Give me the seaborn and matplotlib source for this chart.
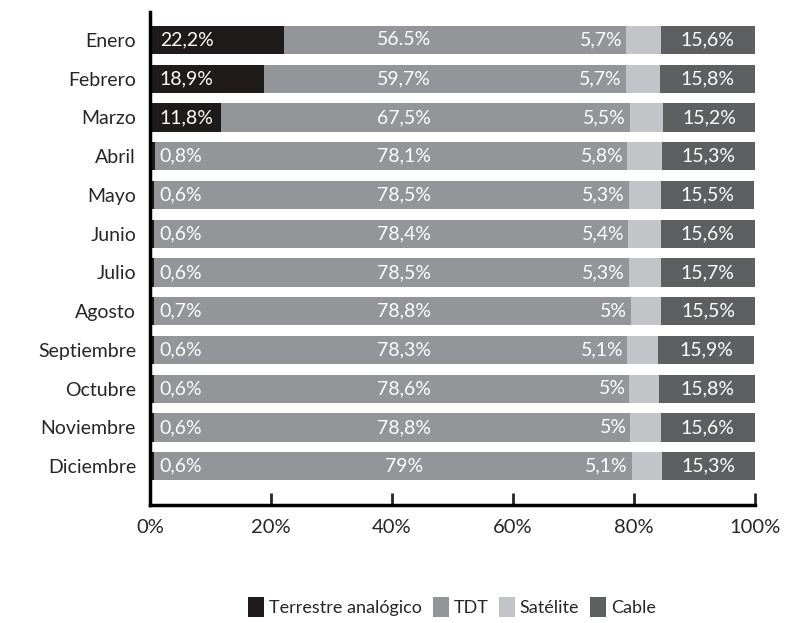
import numpy as np
import pandas as pd
import seaborn as sns
import matplotlib.pyplot as plt
from matplotlib.patches import Patch

# Data
meses = ['Enero', 'Febrero', 'Marzo', 'Abril', 'Mayo', 'Junio', 'Julio',
         'Agosto', 'Septiembre', 'Octubre', 'Noviembre', 'Diciembre']
terrestre = [22.2, 18.9, 11.8, 0.8, 0.6, 0.6, 0.6, 0.7, 0.6, 0.6, 0.6, 0.6]
tdt = [56.5, 59.7, 67.5, 78.1, 78.5, 78.4, 78.5, 78.8, 78.3, 78.6, 78.8, 79]
satelite = [5.7, 5.7, 5.5, 5.8, 5.3, 5.4, 5.3, 5, 5.1, 5, 5, 5.1]
cable = [15.6, 15.8, 15.2, 15.3, 15.5, 15.6, 15.7, 15.5, 15.9, 15.8, 15.6, 15.3]
tdt_labels = ['56.5%', '59,7%', '67,5%', '78,1%', '78,5%', '78,4%', '78,5%',
              '78,8%', '78,3%', '78,6%', '78,8%', '79%']
series = ['Terrestre analógico', 'TDT', 'Satélite', 'Cable']
colors = ['#1f1b1b', '#939598', '#c3c4c7', '#5e5f61']


def fmt(v):
    s = f'{v:g}'.replace('.', ',')
    return s + '%'


df = pd.DataFrame({'mes': meses, 'terrestre': terrestre, 'tdt': tdt,
                   'satelite': satelite, 'cable': cable})
df['c1'] = df['terrestre']
df['c2'] = df['c1'] + df['tdt']
df['c3'] = df['c2'] + df['satelite']
df['c4'] = df['c3'] + df['cable']

sns.set_style('white')
plt.rcParams['font.family'] = ['Lato', 'DejaVu Sans']

fig = plt.figure(figsize=(7.93, 6.23), dpi=100)
ax = fig.add_axes([150 / 793, 1 - 505 / 623, 605 / 793, 493 / 623])

# stacked bars drawn as cumulative totals, widest first
for col, color in zip(['c4', 'c3', 'c2', 'c1'], colors[::-1]):
    sns.barplot(data=df, x=col, y='mes', orient='h', color=color,
                width=0.73, saturation=1, ax=ax, linewidth=0)

fs = 14
for i in range(len(meses)):
    ax.text(1.6, i, fmt(terrestre[i]), ha='left', va='center',
            color='white', fontsize=fs)
    ax.text(42, i, tdt_labels[i], ha='center', va='center',
            color='white', fontsize=fs)
    ax.text(df['c2'][i] - 0.6, i, fmt(satelite[i]), ha='right', va='center',
            color='white', fontsize=fs)
    ax.text((df['c3'][i] + 100) / 2, i, fmt(cable[i]), ha='center',
            va='center', color='white', fontsize=fs)

ax.set_xlim(0, 100)
ax.set_ylim(12.0, -0.72)
ax.set_xticks([0, 20, 40, 60, 80, 100])
ax.set_xticklabels(['0%', '20%', '40%', '60%', '80%', '100%'], fontsize=14.5)
ax.set_xlabel('')
ax.set_ylabel('')
ax.tick_params(axis='y', length=0, labelsize=14, pad=10)
ax.tick_params(axis='x', direction='in', length=9, width=2, pad=10,
               bottom=True)
for side in ['top', 'right']:
    ax.spines[side].set_visible(False)
for side in ['left', 'bottom']:
    ax.spines[side].set_linewidth(2.5)
    ax.spines[side].set_color('black')

handles = [Patch(facecolor=c, edgecolor='none') for c in colors]
fig.legend(handles, series, loc='center', bbox_to_anchor=(452 / 793, 1 - 607 / 623),
           ncol=4, frameon=False, handlelength=0.9, handleheight=1.3,
           handletextpad=0.25, columnspacing=0.6, fontsize=13)

plt.savefig('out.png', dpi=100)
